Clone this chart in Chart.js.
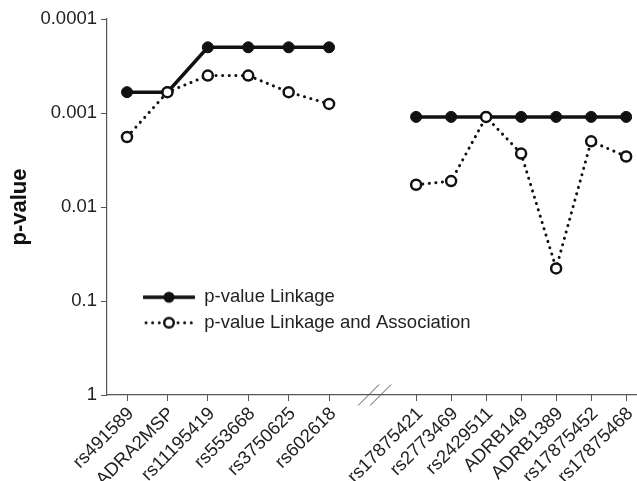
<!DOCTYPE html>
<html>
<head>
<meta charset="utf-8">
<script src="https://cdn.jsdelivr.net/npm/chart.js@4/dist/chart.umd.min.js"></script>
<style>
  html, body { margin: 0; padding: 0; background: #fff; }
</style>
</head>
<body>
<canvas id="chart" width="637" height="481"></canvas>
<script>
// markers, left group and right group (axis is broken between them)
const groupOneLabels = ["rs491589", "ADRA2MSP", "rs11195419", "rs553668", "rs3750625", "rs602618"];
const groupTwoLabels = ["rs17875421", "rs2773469", "rs2429511", "ADRB149", "ADRB1389", "rs17875452", "rs17875468"];

// p-values
const linkageOne = [0.0006, 0.0006, 0.0002, 0.0002, 0.0002, 0.0002];
const linkageTwo = [0.0011, 0.0011, 0.0011, 0.0011, 0.0011, 0.0011, 0.0011];
const assocOne = [0.0018, 0.0006, 0.0004, 0.0004, 0.0006, 0.0008];
const assocTwo = [0.0058, 0.0053, 0.0011, 0.0027, 0.045, 0.002, 0.0029];

const yTicks = [0.0001, 0.001, 0.01, 0.1, 1];
const yTickLabels = ["0.0001", "0.001", "0.01", "0.1", "1"];

const seriesNames = ["p-value Linkage", "p-value Linkage and Association"];

const FONT = "'Liberation Sans', Arial, sans-serif";
const INK = "#111";
const AXIS = "#555";

const toPoints = (values) => values.map((v, i) => ({ x: i, y: v }));

const linkageStyle = {
    borderColor: INK,
    backgroundColor: INK,
    borderWidth: 3.5,
    pointRadius: 5.5,
    pointBorderWidth: 1,
    pointBackgroundColor: INK,
    pointBorderColor: INK,
    order: 1,
};
const assocStyle = {
    borderColor: INK,
    backgroundColor: "#fff",
    borderWidth: 3,
    borderDash: [0.1, 6.5],
    borderCapStyle: "round",
    pointRadius: 5,
    pointBorderWidth: 2.5,
    pointBackgroundColor: "#fff",
    pointBorderColor: INK,
    order: 0,
};

// small canvas used as the legend sample: line with a marker in the middle
function legendSample(solid) {
    const c = document.createElement("canvas");
    c.width = 52;
    c.height = 16;
    const g = c.getContext("2d");
    g.strokeStyle = INK;
    g.lineCap = "round";
    if (solid) {
        g.lineWidth = 3.5;
        g.beginPath(); g.moveTo(1, 8); g.lineTo(51, 8); g.stroke();
        g.fillStyle = INK;
        g.beginPath(); g.arc(26, 8, 5.5, 0, Math.PI * 2); g.fill();
    } else {
        g.lineWidth = 3;
        g.setLineDash([0.1, 6.5]);
        g.beginPath(); g.moveTo(3, 8); g.lineTo(17, 8); g.moveTo(35, 8); g.lineTo(51, 8); g.stroke();
        g.setLineDash([]);
        g.lineWidth = 2.5;
        g.fillStyle = "#fff";
        g.beginPath(); g.arc(26, 8, 4.8, 0, Math.PI * 2); g.fill(); g.stroke();
    }
    return c;
}

// puts the legend inside the plot and lays the second x axis over the first
const layoutFix = {
    id: "layoutFix",
    afterLayout(chart) {
        const { x, x2, y } = chart.scales;
        x2.top = x.top;
        x2.bottom = x.bottom;
        const lg = chart.legend;
        if (lg) {
            lg.left = chart.chartArea.left + 29;
            lg.top = y.getPixelForValue(0.1) - 20;
            lg.right = lg.left + lg.width;
            lg.bottom = lg.top + lg.height;
        }
    },
    afterDraw(chart) {
        // the "//" break on the x axis
        const { x, x2 } = chart.scales;
        const ctx = chart.ctx;
        const cx = (x.getPixelForValue(groupOneLabels.length - 1) + x2.getPixelForValue(0)) / 2 + 2;
        const cy = x.top;
        ctx.save();
        ctx.strokeStyle = AXIS;
        ctx.lineWidth = 1;
        [-6, 6].forEach((dx) => {
            ctx.beginPath();
            ctx.moveTo(cx + dx - 10.5, cy + 10.5);
            ctx.lineTo(cx + dx + 10.5, cy - 10.5);
            ctx.stroke();
        });
        ctx.restore();
    },
};

const xTickStyle = { color: "#222", font: { family: FONT, size: 18.5 }, maxRotation: 45, minRotation: 45, autoSkip: false, padding: 2, labelOffset: 4 };

new Chart(document.getElementById("chart"), {
    type: "line",
    data: {
        datasets: [
            { label: seriesNames[0], data: toPoints(linkageOne), xAxisID: "x", ...linkageStyle },
            { label: seriesNames[1], data: toPoints(assocOne), xAxisID: "x", ...assocStyle },
            { label: seriesNames[0] + " 2", data: toPoints(linkageTwo), xAxisID: "x2", ...linkageStyle },
            { label: seriesNames[1] + " 2", data: toPoints(assocTwo), xAxisID: "x2", ...assocStyle },
        ],
    },
    options: {
        responsive: false,
        animation: false,
        layout: { autoPadding: false, padding: { left: 0, right: 0, top: 19, bottom: 0 } },
        plugins: {
            tooltip: { enabled: false },
            legend: {
                position: "chartArea",
                align: "start",
                labels: {
                    usePointStyle: true,
                    pointStyleWidth: 52,
                    boxHeight: 18.5,
                    padding: 7,
                    color: "#222",
                    font: { family: FONT, size: 18.5 },
                    generateLabels: () => seriesNames.map((name, i) => ({
                        text: name,
                        pointStyle: legendSample(i === 0),
                        datasetIndex: i,
                        fillStyle: INK,
                        strokeStyle: INK,
                        lineWidth: 0,
                        hidden: false,
                        fontColor: "#222",
                    })),
                },
            },
        },
        scales: {
            x: {
                type: "linear",
                position: "bottom",
                min: -0.495,
                max: 12.62,
                grid: { drawOnChartArea: false, drawTicks: true, tickLength: 6, color: AXIS },
                border: { color: AXIS, width: 1.2 },
                ticks: { ...xTickStyle, callback: (v) => groupOneLabels[v] },
                afterBuildTicks: (s) => { s.ticks = groupOneLabels.map((_, i) => ({ value: i })); },
                afterFit: (s) => { s.height = 86; s.paddingLeft = 0; s.paddingRight = 0; },
            },
            x2: {
                type: "linear",
                position: "bottom",
                min: -8.83,
                max: 6.31,
                grid: { drawOnChartArea: false, drawTicks: true, tickLength: 6, color: AXIS },
                border: { display: false },
                ticks: { ...xTickStyle, callback: (v) => groupTwoLabels[v] },
                afterBuildTicks: (s) => { s.ticks = groupTwoLabels.map((_, i) => ({ value: i })); },
                afterFit: (s) => { s.height = 0; s.paddingLeft = 0; s.paddingRight = 0; },
            },
            y: {
                type: "logarithmic",
                reverse: true,
                min: 0.0001,
                max: 1,
                grid: { drawOnChartArea: false, drawTicks: true, tickLength: 6, color: AXIS },
                border: { color: AXIS, width: 1.2 },
                title: { display: true, text: "p-value", color: INK, font: { family: FONT, size: 22, weight: "bold" }, padding: { top: 7, bottom: 4 } },
                ticks: { color: "#222", font: { family: FONT, size: 18.5 }, padding: 4, callback: (v, i) => yTickLabels[i] },
                afterBuildTicks: (s) => { s.ticks = yTicks.map((v) => ({ value: v })); },
                afterFit: (s) => { s.width = 107; },
            },
        },
    },
    plugins: [layoutFix],
});
</script>
</body>
</html>
